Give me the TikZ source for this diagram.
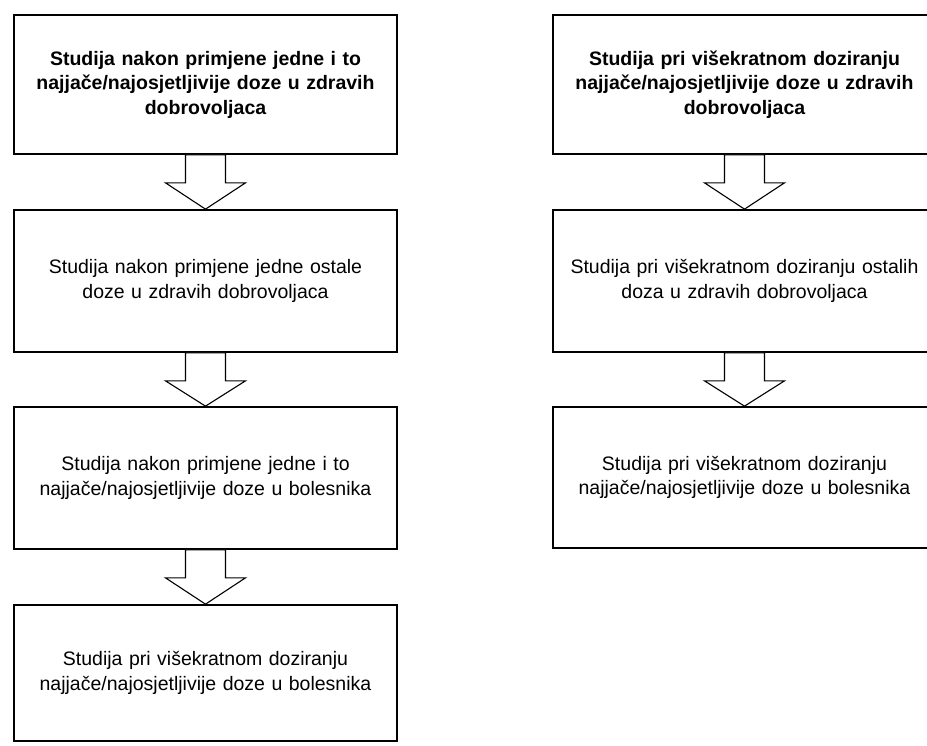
\documentclass[tikz,border=0pt]{standalone}
\usepackage{fontspec}
\setmainfont{Liberation Sans}
\usetikzlibrary{calc}
\tikzset{
  box/.style={draw=black, line width=1.7pt, rectangle, minimum width=383pt, align=center, text width=378pt, inner sep=0pt, font=\fontsize{19.5}{24.5}\selectfont},
  boldbox/.style={box, font=\fontsize{19.5}{24.5}\selectfont\bfseries},
  arr/.style={draw=black, line width=1.1pt, fill=white, line join=miter}
}
\newcommand\blockarr[2]{%
  \draw[arr] ($(#1.south)+(-20,0)$) -- ($(#1.south)+(20,0)$) -- ($(#1.south)+(20,-28)$) -- ($(#1.south)+(40,-28)$) -- (#2.north) -- ($(#1.south)+(-40,-28)$) -- ($(#1.south)+(-20,-28)$) -- cycle;}
\begin{document}
\begin{tikzpicture}[x=1pt,y=1pt]
\useasboundingbox (0,0) rectangle (927,-746);
\fill[white] (0,0) rectangle (927,-746);
% left column
\node[boldbox, minimum height=139pt] (L1) at (205.5,-84.5) {Studija nakon primjene jedne i to\\najjače/najosjetljivije doze u zdravih\\dobrovoljaca};
\node[box, minimum height=142pt] (L2) at (205.5,-281) {Studija nakon primjene jedne ostale\\doze u zdravih dobrovoljaca};
\node[box, minimum height=142pt] (L3) at (205.5,-478) {Studija nakon primjene jedne i to\\najjače/najosjetljivije doze u bolesnika};
\node[box, minimum height=136pt] (L4) at (205.5,-673) {Studija pri višekratnom doziranju\\najjače/najosjetljivije doze u bolesnika};
% right column
\node[boldbox, minimum height=139pt] (R1) at (744.5,-84.5) {Studija pri višekratnom doziranju\\najjače/najosjetljivije doze u zdravih\\dobrovoljaca};
\node[box, minimum height=142pt] (R2) at (744.5,-281) {Studija pri višekratnom doziranju ostalih\\doza u zdravih dobrovoljaca};
\node[box, minimum height=141pt] (R3) at (744.5,-477.5) {Studija pri višekratnom doziranju\\najjače/najosjetljivije doze u bolesnika};
% arrows
\blockarr{L1}{L2}
\blockarr{L2}{L3}
\blockarr{L3}{L4}
\blockarr{R1}{R2}
\blockarr{R2}{R3}
\end{tikzpicture}
\end{document}
